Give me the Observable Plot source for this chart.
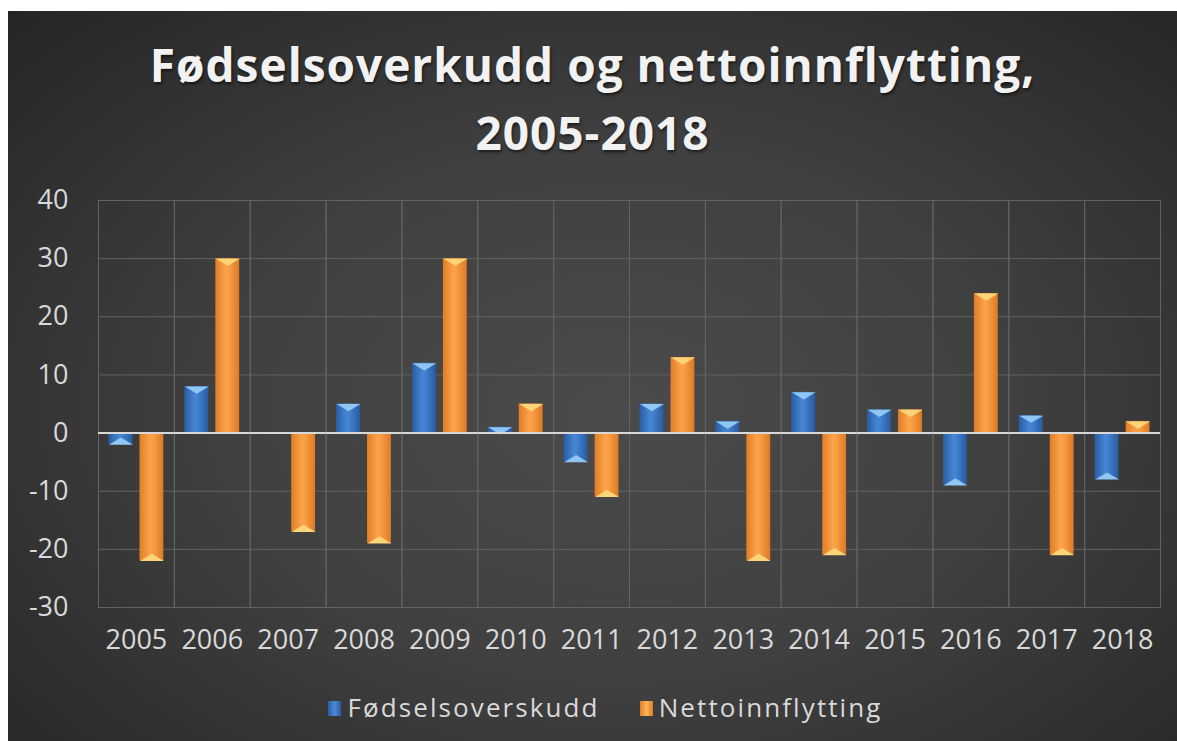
<!DOCTYPE html>
<html>
<head>
<meta charset="utf-8">
<script src="https://cdn.jsdelivr.net/npm/d3@7"></script>
<script src="https://cdn.jsdelivr.net/npm/@observablehq/plot@0.6"></script>
<style>
  html, body { margin: 0; padding: 0; background: #ffffff; }
  #card {
    position: absolute; left: 8px; top: 11px; width: 1169px; height: 730px;
    background: radial-gradient(ellipse 75% 80% at 52% 55%, #4b4b4b 0%, #404040 45%, #2e2e2e 80%, #242424 100%);
    overflow: hidden;
    font-family: "Open Sans", "Noto Sans", sans-serif;
  }
  #title {
    position: absolute; left: 0; top: 19px; width: 100%;
    text-align: center; color: #f2f2f2; font-weight: 700; font-size: 46px;
    line-height: 68px; letter-spacing: 1px;
    text-shadow: 1px 2px 3px rgba(0,0,0,0.6);
  }
  #chart { position: absolute; left: 0; top: 169px; }
  #legend {
    position: absolute; left: 13px; top: 678px; width: 1169px; text-align: center;
    color: #d9d9d9; font-size: 26px; letter-spacing: 2.1px;
  }
  #legend span.item { display: inline-block; margin: 0 20px; }
  #legend i { display: inline-block; width: 13px; height: 15px; margin-right: 6px; vertical-align: 1px; }
</style>
</head>
<body>
<div id="card">
  <div id="title"></div>
  <div id="chart"></div>
  <div id="legend"></div>
</div>
<script>
const titleLines = ["Fødselsoverkudd og nettoinnflytting,", "2005-2018"];
const years = ["2005","2006","2007","2008","2009","2010","2011","2012","2013","2014","2015","2016","2017","2018"];
const seriesNames = ["Fødselsoverskudd", "Nettoinnflytting"];
const fodselsoverskudd = [-2, 8, 0, 5, 12, 1, -5, 5, 2, 7, 4, -9, 3, -8];
const nettoinnflytting = [-22, 30, -17, -19, 30, 5, -11, 13, -22, -21, 4, 24, -21, 2];
const yTicks = [-30, -20, -10, 0, 10, 20, 30, 40];
const seriesFill = ["url(#gradBlue)", "url(#gradOrange)"];
const seriesTip = ["#8fc6f4", "#fcd47a"];
const seriesSwatch = ["linear-gradient(90deg,#2a5ca3,#4a8ad6,#2a5ca3)", "linear-gradient(90deg,#e07c25,#fbb55a,#e07c25)"];

document.getElementById("title").innerHTML = titleLines.map(t => `<div>${t}</div>`).join("");

const rows = [];
years.forEach((yr, i) => {
  rows.push({year: yr, series: seriesNames[0], value: fodselsoverskudd[i]});
  rows.push({year: yr, series: seriesNames[1], value: nettoinnflytting[i]});
});

const flatTri = {
  draw(context, size) {
    const s = Math.sqrt(size / Math.PI);
    context.moveTo(-s, 0);
    context.lineTo(s, 0);
    context.lineTo(0, s * 0.6);
    context.closePath();
  }
};

const marks = [
  Plot.ruleY(yTicks, {stroke: "#626262", strokeWidth: 1}),
  Plot.frame({stroke: "#626262", strokeWidth: 1})
];
seriesNames.forEach((s, k) => {
  const keep = d => d.series === s && d.value !== 0;
  marks.push(Plot.barY(rows, {filter: keep, x: "series", y: "value", fill: seriesFill[k]}));
  marks.push(Plot.dot(rows, {
    filter: keep, x: "series", y: "value", symbol: flatTri, r: 12, fill: seriesTip[k], stroke: "none",
    rotate: d => d.value > 0 ? 0 : 180
  }));
});
marks.push(Plot.ruleY([0], {stroke: "#d8d8d8", strokeWidth: 2}));

const svg = Plot.plot({
  width: 1169,
  height: 490,
  marginLeft: 90,
  marginRight: 17,
  marginTop: 20,
  marginBottom: 63,
  style: {background: "transparent", color: "#d9d9d9", fontSize: "27px", fontFamily: "'Open Sans', 'Noto Sans', sans-serif"},
  facet: {data: rows, x: "year"},
  fx: {domain: years, padding: 0, paddingInner: 0, paddingOuter: 0, round: false, axis: "bottom", tickSize: 0, tickPadding: 22, label: null},
  x: {domain: seriesNames, paddingInner: 0.23, paddingOuter: 0.34, round: false, axis: null},
  y: {domain: [-30, 40], ticks: yTicks, tickSize: 0, tickPadding: 30, label: null, tickFormat: d => String(d)},
  marks
});

d3.select(svg).insert("defs", ":first-child").html(`
  <linearGradient id="gradBlue" x1="0" x2="1" y1="0" y2="0">
    <stop offset="0" stop-color="#2a5ca3"/>
    <stop offset="0.45" stop-color="#4687d4"/>
    <stop offset="0.6" stop-color="#3f7ecb"/>
    <stop offset="1" stop-color="#2a5aa0"/>
  </linearGradient>
  <linearGradient id="gradOrange" x1="0" x2="1" y1="0" y2="0">
    <stop offset="0" stop-color="#e17d26"/>
    <stop offset="0.45" stop-color="#fba44b"/>
    <stop offset="0.6" stop-color="#f89c42"/>
    <stop offset="1" stop-color="#dd7a24"/>
  </linearGradient>
`);
document.getElementById("chart").appendChild(svg);

document.getElementById("legend").innerHTML = seriesNames.map((s, k) =>
  `<span class="item"><i style="background:${seriesSwatch[k]}"></i>${s}</span>`).join("");
</script>
</body>
</html>
